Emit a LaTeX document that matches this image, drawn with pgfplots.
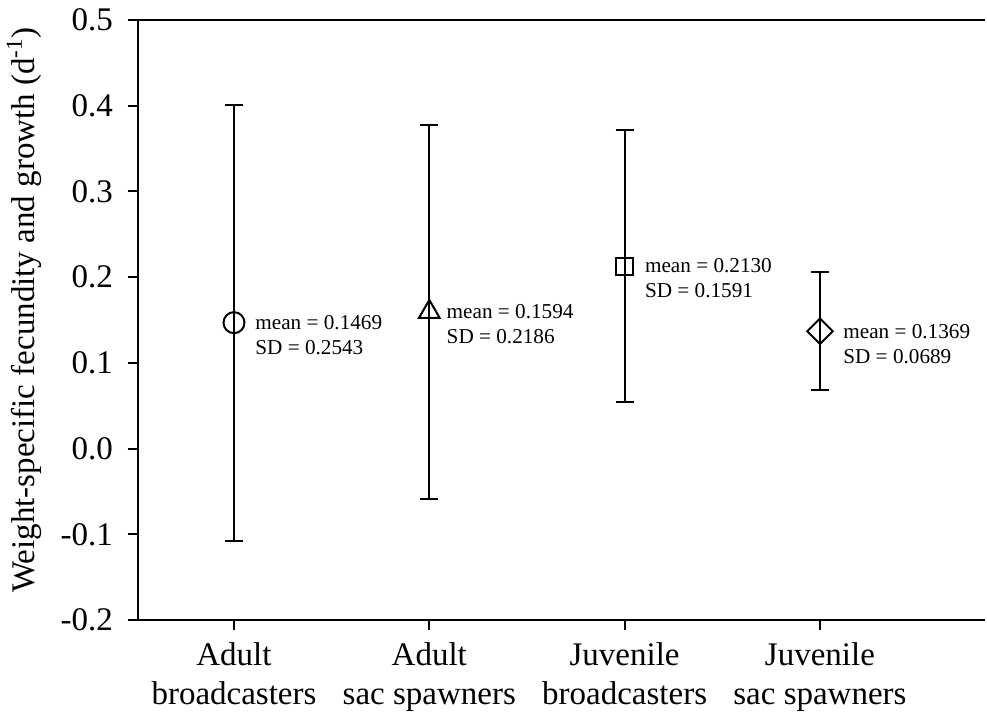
\documentclass[border=0pt]{standalone}
\usepackage{fontspec}
\setmainfont{Liberation Serif}
\usepackage{pgfplots}
\pgfplotsset{compat=1.18}
\begin{document}
\begin{tikzpicture}
\begin{axis}[
  scale only axis, width=423.5pt, height=300pt,
  xmin=0.5085, xmax=4.845, ymin=-0.2, ymax=0.5,
  axis x line*=box, axis y line*=left,
  axis line style={line width=1pt, black},
  tick align=outside, major tick length=5pt,
  tick style={line width=1pt, black},
  xtick pos=left, ytick pos=left,
  xtick={1,2,3,4},
  xticklabels={{Adult\\broadcasters},{Adult\\sac spawners},{Juvenile\\broadcasters},{Juvenile\\sac spawners}},
  xticklabel style={align=center, font=\fontsize{16.5}{19.5}\selectfont, yshift=-3pt},
  ytick={-0.2,-0.1,0,0.1,0.2,0.3,0.4,0.5},
  /pgf/number format/assume math mode=true,
  /pgf/number format/fixed,
  /pgf/number format/fixed zerofill,
  /pgf/number format/precision=1,
  yticklabel style={xshift=-4pt},
  tick label style={font=\fontsize{16.5}{19.5}\selectfont},
  ylabel={Weight-specific fecundity and growth (d\textsuperscript{-1})},
  every axis y label/.style={at={(rel axis cs:0,0.517)}, rotate=90, anchor=south, inner sep=0pt, yshift=48pt, font=\fontsize{16.5}{19.5}\selectfont},
  clip=false,
  error bars/error bar style={line width=1pt, black},
  error bars/error mark options={rotate=90, mark size=4.5pt, line width=1pt, black},
]
\addplot[black, only marks, mark=o, mark size=5.25pt, mark options={line width=1pt},
  error bars/.cd, y dir=both, y explicit]
  coordinates {(1,0.1469) +- (0,0.2543)};
\addplot[black, only marks, mark=triangle, mark size=6pt, mark options={line width=1pt},
  error bars/.cd, y dir=both, y explicit]
  coordinates {(2,0.1594) +- (0,0.2186)};
\addplot[black, only marks, mark=square, mark size=4.25pt, mark options={line width=1pt},
  error bars/.cd, y dir=both, y explicit]
  coordinates {(3,0.2130) +- (0,0.1591)};
\addplot[black, only marks, mark=square, mark size=4.5pt, mark options={line width=1pt, rotate=45},
  error bars/.cd, y dir=both, y explicit]
  coordinates {(4,0.1369) +- (0,0.0689)};
\tikzset{ann/.style={anchor=west, inner sep=0pt, font=\fontsize{10.6}{12.5}\selectfont}}
\node[ann, xshift=10.5pt] at (axis cs:1,0.1469) {mean = 0.1469};
\node[ann, xshift=10.5pt, yshift=-12.5pt] at (axis cs:1,0.1469) {SD = 0.2543};
\node[ann, xshift=8.5pt] at (axis cs:2,0.1594) {mean = 0.1594};
\node[ann, xshift=8.5pt, yshift=-12.5pt] at (axis cs:2,0.1594) {SD = 0.2186};
\node[ann, xshift=10pt] at (axis cs:3,0.2130) {mean = 0.2130};
\node[ann, xshift=10pt, yshift=-12.5pt] at (axis cs:3,0.2130) {SD = 0.1591};
\node[ann, xshift=11.5pt] at (axis cs:4,0.1369) {mean = 0.1369};
\node[ann, xshift=11.5pt, yshift=-12.5pt] at (axis cs:4,0.1369) {SD = 0.0689};
\end{axis}
\pgfresetboundingbox
\path (-69pt,-46pt) rectangle (424.5pt,310pt);
\end{tikzpicture}
\end{document}
